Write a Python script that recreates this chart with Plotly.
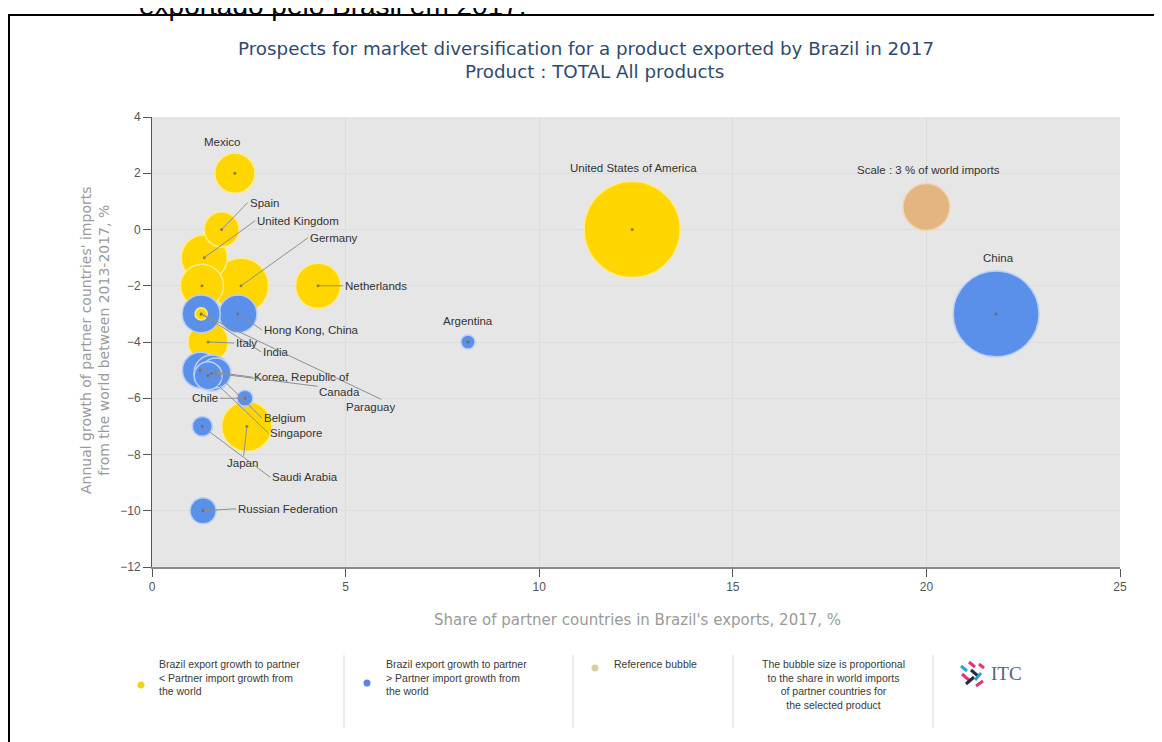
import math
import plotly.graph_objects as go

# ---------------- data ----------------
countries = ["Mexico", "Spain", "United Kingdom", "France", "Germany", "Netherlands",
             "United States of America", "China", "Argentina", "Hong Kong, China", "India",
             "Paraguay", "Italy", "Korea, Republic of", "Canada", "Belgium", "Singapore",
             "Chile", "Japan", "Saudi Arabia", "Russian Federation"]
export_share = [2.14, 1.8, 1.35, 1.29, 2.3, 4.29, 12.4, 21.8, 8.16, 2.22, 1.27,
                1.27, 1.45, 1.25, 1.55, 1.65, 1.45, 2.4, 2.45, 1.3, 1.32]
import_growth = [2, 0, -1, -2, -2, -2, 0, -3, -4, -3, -3,
                 -3, -4, -5, -5.1, -5.1, -5.2, -6, -7, -7, -10]
world_import_share = [2.17, 1.66, 2.87, 2.5, 4.1, 2.75, 12.5, 10.0, 0.27, 1.96, 1.96,
                      0.2, 2.17, 1.76, 1.76, 1.22, 1.06, 0.35, 3.4, 0.54, 0.92]
group = ["lower", "lower", "lower", "lower", "lower", "lower", "lower", "higher", "higher",
         "higher", "higher", "lower", "lower", "higher", "higher", "higher", "higher",
         "higher", "lower", "higher", "higher"]
ref_label = "Scale : 3 % of world imports"
ref_share = 3.0
ref_x = 20.0
ref_y = 0.8

x_ticks = [0, 5, 10, 15, 20, 25]
y_ticks = [4, 2, 0, -2, -4, -6, -8, -10, -12]

# ---------------- styling / layout ----------------
PAGE_OFF = 8                      # default body margin of the html page
FIG_W, FIG_H = 1162 - PAGE_OFF, 742 - PAGE_OFF
PL, PT, W, H = 152, 117, 968, 450  # plot area in screen pixels
XR = (0, 25)
YR = (-12, 4)


def fx(px):
    return (px - PL) / W


def fy(py):
    return (PT + H - py) / H


def diam(share):
    return 47 * math.sqrt(share / 3.0)


COL = {"lower": "#FFD600", "higher": "#5A8FEA"}
LINE = {"lower": "#FFEB8A", "higher": "#B8CFF6"}

order = sorted(range(len(countries)), key=lambda i: -world_import_share[i])

fig = go.Figure()
fig.add_trace(go.Scatter(
    x=[export_share[i] for i in order],
    y=[import_growth[i] for i in order],
    text=[countries[i] for i in order],
    mode="markers",
    hoverinfo="text",
    marker=dict(
        size=[diam(world_import_share[i]) for i in order],
        sizemode="diameter",
        color=[COL[group[i]] for i in order],
        line=dict(color=[LINE[group[i]] for i in order], width=1.5),
        opacity=1,
    ),
    showlegend=False,
))
# reference bubble
fig.add_trace(go.Scatter(
    x=[ref_x], y=[ref_y], mode="markers", hoverinfo="skip",
    marker=dict(size=diam(ref_share), sizemode="diameter", color="#E2B581",
                line=dict(color="#F2D6B4", width=1.5)),
    showlegend=False,
))
# centre dots
fig.add_trace(go.Scatter(
    x=export_share, y=import_growth, mode="markers", hoverinfo="skip",
    marker=dict(size=3, color="rgba(110,95,60,0.75)"),
    showlegend=False,
))

# label placement: (dx, dy, xanchor, arrow) in pixels from the bubble centre
label_pos = {
    "Mexico": (-13, -31, "center", False),
    "Spain": (26, -27, "left", True),
    "United Kingdom": (51, -37, "left", True),
    "Germany": (67, -48, "left", True),
    "Netherlands": (25, 0, "left", True),
    "United States of America": (1, -62, "center", False),
    "China": (2, -56, "center", False),
    "Argentina": (0, -21, "center", False),
    "Hong Kong, China": (24, 16, "left", True),
    "India": (60, 38, "left", True),
    "Italy": (26, 1, "left", True),
    "Korea, Republic of": (52, 7, "left", True),
    "Canada": (150, 19, "right", True),
    "Paraguay": (196, 93, "right", True),
    "Chile": (-25, 0, "right", True),
    "Belgium": (46, 45, "left", True),
    "Singapore": (60, 57, "left", True),
    "Japan": (-4, 37, "center", True),
    "Saudi Arabia": (68, 51, "left", True),
    "Russian Federation": (33, -2, "left", True),
}

LABEL_FONT = dict(family="Liberation Sans, Arial, sans-serif", size=11.5, color="#333333")
annotations = []
for i, c in enumerate(countries):
    if c not in label_pos:
        continue
    dx, dy, anc, arrow = label_pos[c]
    if arrow:
        annotations.append(dict(
            x=export_share[i], y=import_growth[i], xref="x", yref="y",
            text=c, showarrow=True, arrowhead=0, arrowwidth=1, arrowcolor="#8f8f8f",
            ax=dx, ay=dy, xanchor=anc, yanchor="middle", font=LABEL_FONT,
        ))
    else:
        annotations.append(dict(
            x=export_share[i], y=import_growth[i], xref="x", yref="y",
            text=c, showarrow=False, xshift=dx, yshift=-dy,
            xanchor=anc, yanchor="middle", font=LABEL_FONT,
        ))
annotations.append(dict(
    x=ref_x, y=ref_y, xref="x", yref="y", text=ref_label, showarrow=False,
    xshift=2, yshift=37, xanchor="center", yanchor="middle", font=LABEL_FONT,
))

# titles
TITLE_FONT = dict(family="DejaVu Sans, Verdana, sans-serif", size=18.3, color="#2f4a6e")
annotations.append(dict(x=fx(586), y=fy(48), xref="paper", yref="paper", showarrow=False,
                        text="Prospects for market diversification for a product exported by Brazil in 2017",
                        xanchor="center", yanchor="middle", font=TITLE_FONT))
annotations.append(dict(x=fx(594), y=fy(72), xref="paper", yref="paper", showarrow=False,
                        text="Product : TOTAL All products",
                        xanchor="center", yanchor="middle", font=TITLE_FONT))

annotations.append(dict(x=fx(637), y=fy(620), xref="paper", yref="paper", showarrow=False,
                        text="Share of partner countries in Brazil's exports, 2017, %",
                        xanchor="center", yanchor="middle",
                        font=dict(family="DejaVu Sans, Verdana, sans-serif", size=15, color="#9a9a9a")))
annotations.append(dict(x=fx(95), y=fy(340), xref="paper", yref="paper", showarrow=False,
                        text="Annual growth of partner countries' imports<br>from the world between 2013-2017, %",
                        textangle=-90, xanchor="center", yanchor="middle",
                        font=dict(family="DejaVu Sans, Verdana, sans-serif", size=14, color="#9a9a9a")))

# cut-off document text at the very top
annotations.append(dict(x=fx(137), y=fy(23), xref="paper", yref="paper", showarrow=False,
                        text="exportado pelo Brasil em 2017.", xanchor="left", yanchor="bottom",
                        font=dict(family="Liberation Sans, Arial, sans-serif", size=28, color="#000000")))

# legend block
LEG_FONT = dict(family="Liberation Sans, Arial, sans-serif", size=10.5, color="#3a3a3a")
annotations += [
    dict(x=fx(157), y=fy(656), xref="paper", yref="paper", showarrow=False, align="left",
         text="Brazil export growth to partner<br>&lt; Partner import growth from<br>the world",
         xanchor="left", yanchor="top", font=LEG_FONT),
    dict(x=fx(384), y=fy(656), xref="paper", yref="paper", showarrow=False, align="left",
         text="Brazil export growth to partner<br>&gt; Partner import growth from<br>the world",
         xanchor="left", yanchor="top", font=LEG_FONT),
    dict(x=fx(612), y=fy(656), xref="paper", yref="paper", showarrow=False, align="left",
         text="Reference bubble", xanchor="left", yanchor="top", font=LEG_FONT),
    dict(x=fx(833), y=fy(656), xref="paper", yref="paper", showarrow=False, align="center",
         text="The bubble size is proportional<br>to the share in world imports<br>of partner countries for<br>the selected product",
         xanchor="center", yanchor="top", font=LEG_FONT),
    dict(x=fx(989), y=fy(673), xref="paper", yref="paper", showarrow=False,
         text="ITC", xanchor="left", yanchor="middle",
         font=dict(family="Liberation Serif, Times New Roman, serif", size=19, color="#56617e")),
]

shapes = []


def dot(cx, cy, r, color):
    shapes.append(dict(type="circle", xref="paper", yref="paper",
                       x0=fx(cx - r), x1=fx(cx + r), y0=fy(cy + r), y1=fy(cy - r),
                       fillcolor=color, line=dict(width=0)))


dot(141, 685, 3.5, "#F2D21C")
dot(367, 683, 3.5, "#5A86DE")
dot(595, 668, 3.5, "#D8CFA0")

for sx in [344, 573, 733, 933]:
    shapes.append(dict(type="line", xref="paper", yref="paper", x0=fx(sx), x1=fx(sx),
                       y0=fy(655), y1=fy(728), line=dict(color="#d9d9d9", width=1)))

# ITC logo strokes
for (x0, y0, x1, y1, c) in [
    (961, 666, 967, 671, "#2fa0d6"), (969, 662, 975, 667, "#e2357a"),
    (962, 674, 970, 681, "#e2357a"), (971, 670, 978, 676, "#1f2a44"),
    (966, 684, 974, 677, "#1f2a44"), (975, 680, 981, 673, "#2fa0d6"),
    (979, 664, 984, 668, "#e2357a"), (976, 686, 983, 681, "#e2357a"),
]:
    shapes.append(dict(type="line", xref="paper", yref="paper", x0=fx(x0), x1=fx(x1),
                       y0=fy(y0), y1=fy(y1), line=dict(color=c, width=3)))

# black frame of the embedded image
shapes.append(dict(type="rect", xref="paper", yref="paper", x0=fx(9), x1=fx(1200),
                   y0=fy(780), y1=fy(15), line=dict(color="#000000", width=2),
                   fillcolor="rgba(0,0,0,0)", layer="above"))

TICK_FONT = dict(family="Liberation Sans Narrow, Liberation Sans, Arial, sans-serif", size=12, color="#555555")
fig.update_layout(
    width=FIG_W, height=FIG_H,
    margin=dict(l=PL - PAGE_OFF, r=FIG_W - (PL - PAGE_OFF) - W, t=PT - PAGE_OFF,
                b=FIG_H - (PT - PAGE_OFF) - H, pad=0),
    paper_bgcolor="#ffffff",
    plot_bgcolor="#e6e6e6",
    xaxis=dict(range=list(XR), tickvals=x_ticks, ticks="outside", ticklen=8, tickwidth=1,
               tickcolor="#555555", showline=True, linecolor="#8a8a8a", linewidth=2,
               showgrid=True, gridcolor="#dddddd", gridwidth=1, zeroline=False,
               tickfont=TICK_FONT, fixedrange=True),
    yaxis=dict(range=list(YR), tickvals=y_ticks, ticks="outside", ticklen=8, tickwidth=1,
               tickcolor="#555555", showline=True, linecolor="#555555", linewidth=1,
               showgrid=True, gridcolor="#dddddd", gridwidth=1, zeroline=False,
               tickfont=TICK_FONT, fixedrange=True),
    annotations=annotations,
    shapes=shapes,
    hovermode="closest",
)

fig.write_html("out.html")
